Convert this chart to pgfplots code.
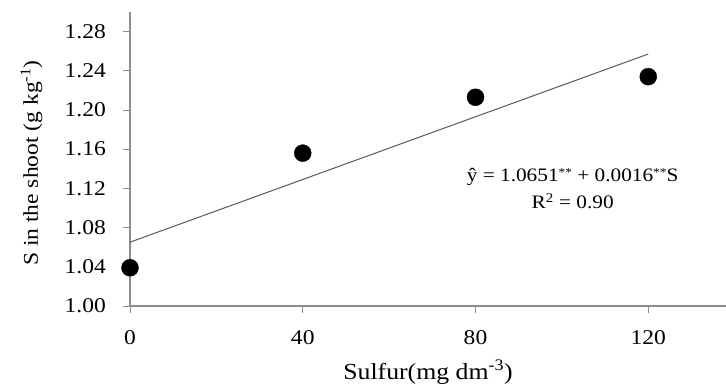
\documentclass[border=0pt]{standalone}
\usepackage{fontspec}
\setmainfont[FakeStretch=1.12]{Liberation Serif}
\usepackage{pgfplots}
\pgfplotsset{compat=1.18}
\begin{document}
\fontsize{21pt}{25pt}\selectfont
\begin{tikzpicture}
\begin{axis}[
  scale only axis,
  width=596pt, height=294pt,
  xmin=0, xmax=138, ymin=1.0, ymax=1.30,
  axis lines*=left,
  axis line style={draw=black!45, line width=1.2pt},
  xtick={0,40,80,120},
  ytick={1.00,1.04,1.08,1.12,1.16,1.20,1.24,1.28},
  y tick label style={/pgf/number format/fixed, /pgf/number format/fixed zerofill, /pgf/number format/precision=2},
  /pgf/number format/assume math mode=true,
  tick style={draw=black!45, line width=0.8pt},
  tick align=outside,
  major tick length=7pt,
  ticklabel style={font=\fontsize{21pt}{25pt}\selectfont},
  x tick label style={yshift=-10pt},
  y tick label style={xshift=-10pt},
  xlabel={Sulfur(mg dm\textsuperscript{-3})},
  ylabel={S in the shoot (g kg\textsuperscript{-1})},
  xlabel style={font=\fontsize{23pt}{27pt}\selectfont, yshift=-1pt},
  ylabel style={font=\fontsize{21pt}{25pt}\selectfont, yshift=8pt, xshift=-4pt},
  clip=false,
]
\addplot[only marks, mark=*, mark size=8.5pt, black] coordinates {
  (0,1.039) (40,1.156) (80,1.213) (120,1.234)
};
\addplot[black!65, line width=1pt] coordinates {(0,1.0651) (120,1.2571)};
\node[align=center, font=\fontsize{19pt}{27pt}\selectfont] at (axis cs:102.5,1.120)
  {ŷ = 1.0651{\fontsize{12pt}{12pt}\selectfont\raisebox{5pt}{**}} + 0.0016{\fontsize{12pt}{12pt}\selectfont\raisebox{5pt}{**}}S\\R\textsuperscript{2} = 0.90};
\end{axis}
\pgfresetboundingbox
\path[use as bounding box] ([xshift=-130pt,yshift=-81pt]current axis.south west) rectangle ([yshift=12pt]current axis.north east);
\end{tikzpicture}
\end{document}
